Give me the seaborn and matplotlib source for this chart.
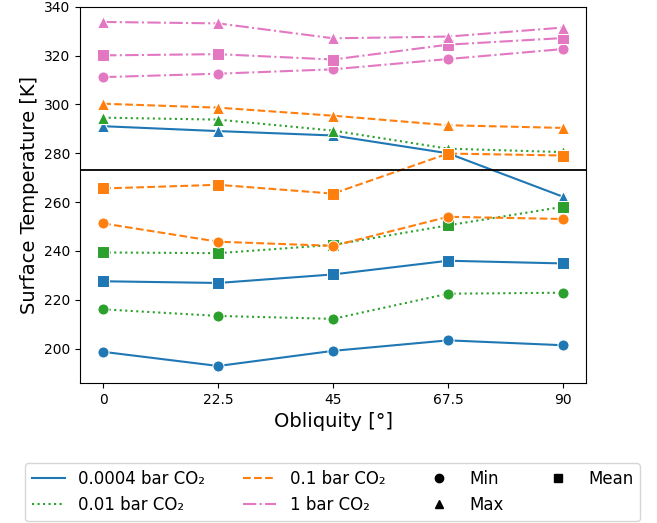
import matplotlib
matplotlib.use("Agg")
import matplotlib.pyplot as plt
from matplotlib.lines import Line2D
import seaborn as sns
import pandas as pd

obliquity = [0, 22.5, 45, 67.5, 90]
pressures = ["0.0004 bar CO₂", "0.01 bar CO₂", "0.1 bar CO₂", "1 bar CO₂"]
stats = ["Min", "Mean", "Max"]

t_0004_min = [198.7, 192.9, 199.1, 203.4, 201.4]
t_0004_mean = [227.6, 226.9, 230.4, 236.0, 234.9]
t_0004_max = [291.1, 289.1, 287.3, 280.0, 262.2]

t_001_min = [216.1, 213.4, 212.2, 222.5, 222.9]
t_001_mean = [239.4, 239.1, 242.5, 250.5, 258.1]
t_001_max = [294.6, 293.8, 289.3, 281.9, 280.5]

t_01_min = [251.3, 243.8, 242.1, 254.0, 253.1]
t_01_mean = [265.6, 267.1, 263.5, 279.9, 279.1]
t_01_max = [300.3, 298.7, 295.4, 291.5, 290.4]

t_1_min = [311.2, 312.6, 314.4, 318.6, 322.7]
t_1_mean = [320.1, 320.6, 318.4, 324.5, 327.2]
t_1_max = [333.8, 333.2, 327.1, 327.8, 331.5]

freezing = 273.15

values = {
    pressures[0]: [t_0004_min, t_0004_mean, t_0004_max],
    pressures[1]: [t_001_min, t_001_mean, t_001_max],
    pressures[2]: [t_01_min, t_01_mean, t_01_max],
    pressures[3]: [t_1_min, t_1_mean, t_1_max],
}

rows = []
for p in pressures:
    for s, vals in zip(stats, values[p]):
        for x, v in zip(obliquity, vals):
            rows.append({"obliquity": x, "temp": v, "pressure": p, "stat": s})
df = pd.DataFrame(rows)

pal = sns.color_palette("tab10")
colors = {pressures[0]: pal[0], pressures[1]: pal[2], pressures[2]: pal[1], pressures[3]: pal[6]}
lstyles = {pressures[0]: "-", pressures[1]: ":", pressures[2]: "--", pressures[3]: "-."}
markers = {"Min": "o", "Mean": "s", "Max": "^"}

fig = plt.figure(figsize=(6.57, 5.23), dpi=100)
ax = fig.add_axes([0.122, 0.268, 0.770, 0.719])

for p in pressures:
    for s in stats:
        sub = df[(df.pressure == p) & (df.stat == s)]
        sns.lineplot(data=sub, x="obliquity", y="temp", ax=ax, color=colors[p],
                     linestyle=lstyles[p], marker=markers[s], markersize=8,
                     linewidth=1.5, legend=False)

ax.axhline(freezing, color="black", linewidth=1.3)
ax.set_xticks(obliquity)
ax.set_xticklabels(["0", "22.5", "45", "67.5", "90"])
ax.set_xlim(-4.5, 94.5)
ax.set_ylim(186, 340)
ax.set_yticks([200, 220, 240, 260, 280, 300, 320, 340])
ax.tick_params(labelsize=10)
ax.set_xlabel("Obliquity [°]", fontsize=14)
ax.set_ylabel("Surface Temperature [K]", fontsize=14)

handles = []
for p in pressures:
    handles.append(Line2D([], [], color=colors[p], linestyle=lstyles[p], linewidth=1.5, label=p))
for s in ["Min", "Max", "Mean"]:
    handles.append(Line2D([], [], color="black", linestyle="none", marker=markers[s],
                          markersize=6, label=s))
fig.legend(handles=handles, ncol=4, loc="lower center", bbox_to_anchor=(0.506, -0.012),
           prop={"family": "DejaVu Sans", "size": 12},
           columnspacing=2.25, handlelength=2.0, frameon=True)

fig.savefig("out.png", dpi=100)
